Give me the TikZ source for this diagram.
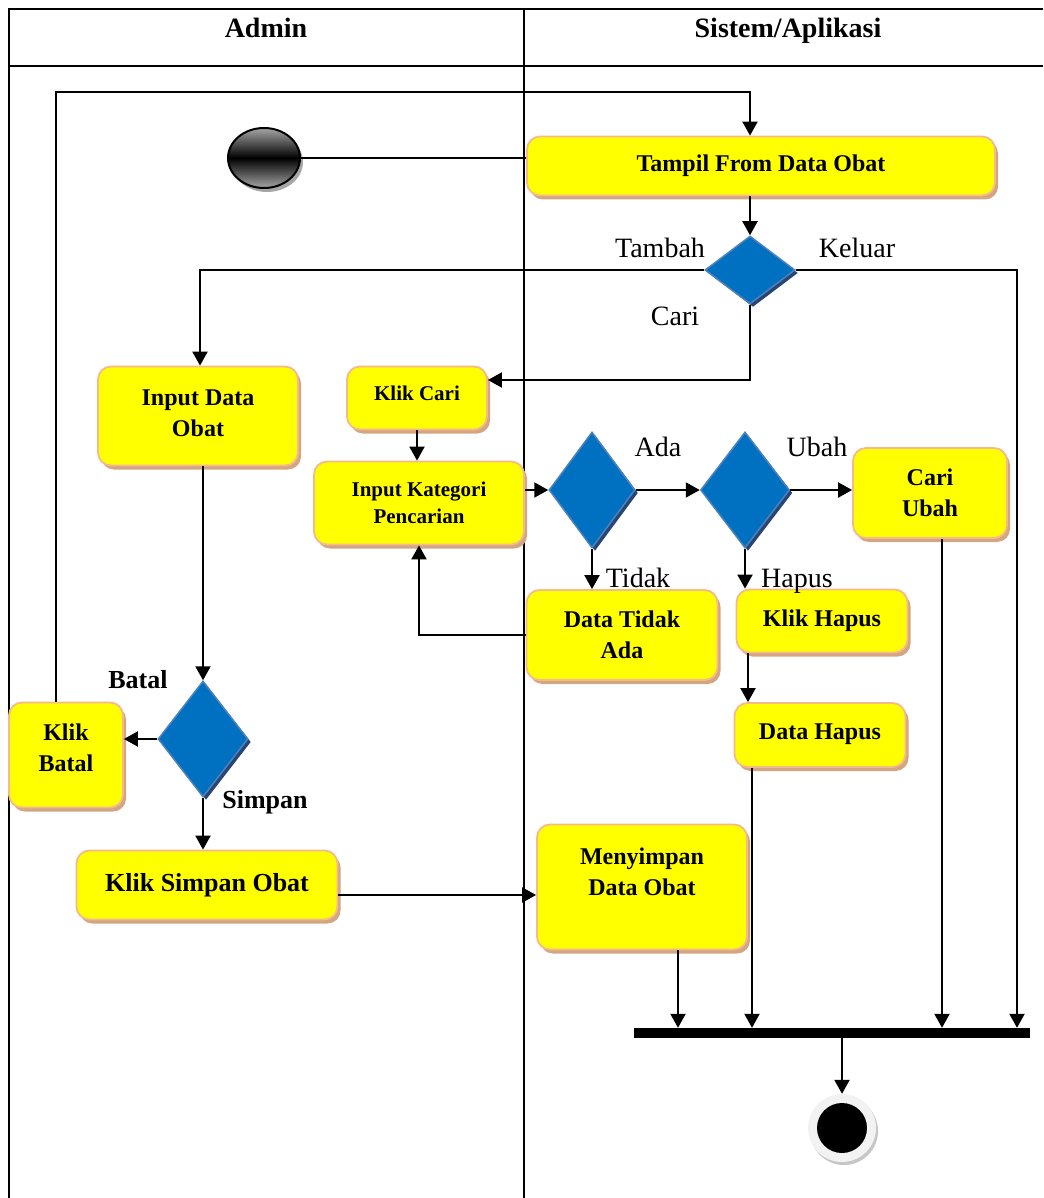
\documentclass[tikz,border=0pt]{standalone}
\usepackage{fontspec}
\setmainfont{Liberation Serif}
\usetikzlibrary{arrows.meta,shapes.geometric,shadows,calc}
\definecolor{boxfill}{RGB}{255,255,0}
\definecolor{boxline}{RGB}{244,185,140}
\definecolor{boxshadow}{RGB}{212,165,130}
\definecolor{diafill}{RGB}{0,112,192}
\definecolor{dialine}{RGB}{79,129,189}
\definecolor{diashadow}{RGB}{40,70,115}
\begin{document}
\begin{tikzpicture}[x=1pt,y=-1pt,
  box/.style={rectangle, rounded corners=13pt, draw=boxline, line width=1.8pt, fill=boxfill, align=center, inner sep=0pt,
    font=\bfseries\fontsize{24}{31}\selectfont,
    drop shadow={shadow xshift=3pt, shadow yshift=-4pt, fill=boxshadow, opacity=1}},
  smallbox/.style={box, font=\bfseries\fontsize{21}{27}\selectfont},
  dia/.style={diamond, draw=dialine, line width=1.5pt, fill=diafill, inner sep=0pt,
    drop shadow={shadow xshift=3pt, shadow yshift=-3pt, fill=diashadow, opacity=1}},
  lbl/.style={font=\fontsize{28}{30}\selectfont, inner sep=0pt, anchor=base},
  blbl/.style={font=\bfseries\fontsize{26}{28}\selectfont, inner sep=0pt, anchor=base},
  hdr/.style={font=\bfseries\fontsize{28}{30}\selectfont, inner sep=0pt, anchor=base},
  conn/.style={line width=2pt},
  arr/.style={conn, -{Triangle[length=14pt,width=15pt]}},
  tbl/.style={line width=1.6pt}
]
\useasboundingbox (0,0) rectangle (1043,1198);
% table
\draw[tbl] (1043,9) -- (9,9) -- (9,1198);
\draw[tbl] (9,66) -- (1043,66);
\draw[tbl] (524,9) -- (524,1198);
\node[hdr] (hadmin) at (266,38) {Admin};
\node[hdr] (hsys) at (788,38) {Sistem/Aplikasi};

% nodes
\node[ellipse, minimum width=72pt, minimum height=60pt, draw=black, line width=2pt,
  top color=gray!70, bottom color=gray!70, middle color=black,
  drop shadow={shadow xshift=3pt, shadow yshift=-4pt, fill=gray!70, opacity=1}] (start) at (264,158) {};
\node[box, minimum width=468pt, minimum height=59pt] (tampil) at (761,166) {Tampil From Data Obat};
\node[dia, minimum width=90pt, minimum height=68pt] (d1) at (750,270) {};
\node[box, minimum width=200pt, minimum height=99pt] (inputdata) at (198,416) {Input Data\\Obat\\[-25pt]\mbox{}};
\node[smallbox, minimum width=140pt, minimum height=63pt] (klikcari) at (417,398) {Klik Cari\\[-17pt]\mbox{}};
\node[smallbox, minimum width=210pt, minimum height=83pt] (inputkat) at (419,503) {Input Kategori\\Pencarian};
\node[dia, minimum width=86pt, minimum height=116pt] (d2) at (592,490) {};
\node[dia, minimum width=89pt, minimum height=116pt] (d3) at (745,490) {};
\node[box, minimum width=154pt, minimum height=90pt] (cariubah) at (930,493) {Cari\\Ubah};
\node[box, minimum width=191pt, minimum height=90pt] (datatidak) at (622,635) {Data Tidak\\Ada};
\node[box, minimum width=171pt, minimum height=63pt] (klikhapus) at (822,621) {Klik Hapus};
\node[box, minimum width=171pt, minimum height=64pt] (datahapus) at (820,735) {Data Hapus\\[-24pt]\mbox{}};
\node[dia, minimum width=90pt, minimum height=116pt] (d4) at (203,739) {};
\node[box, minimum width=114pt, minimum height=105pt] (klikbatal) at (66,755) {Klik\\Batal\\[-17pt]\mbox{}};
\node[box, minimum width=261pt, minimum height=69pt, font=\bfseries\fontsize{26}{31}\selectfont] (kliksimpan) at (207,885) {Klik Simpan Obat\\[-25pt]\mbox{}};
\node[box, minimum width=210pt, minimum height=125pt] (menyimpan) at (642,887) {Menyimpan\\Data Obat\\~};
\node[rectangle, fill=black, minimum width=396pt, minimum height=10pt, inner sep=0pt] (bar) at (832,1033) {};
\node[circle, minimum size=68pt, fill=gray!10, inner sep=0pt,
  drop shadow={shadow xshift=2pt, shadow yshift=-3pt, fill=gray!45, opacity=1}] (end) at (842,1128) {};
\node[circle, minimum size=50pt, fill=black, inner sep=0pt] (endin) at (end.center) {};

% labels
\node[lbl] (ltambah) at (660,258) {Tambah};
\node[lbl] (lkeluar) at (857,258) {Keluar};
\node[lbl] (lcari) at (675,325) {Cari};
\node[lbl] (lada) at (658,456) {Ada};
\node[lbl] (lubah) at (817,456) {Ubah};
\node[lbl] (ltidak) at (638,587) {Tidak};
\node[lbl] (lhapus) at (797,587) {Hapus};
\node[blbl] (lbatal) at (138,688) {Batal};
\node[blbl] (lsimpan) at (265,808) {Simpan};

% coordinates
\coordinate (loop) at (750,92);
\coordinate (kx) at (1017,270);
\coordinate (cc) at (750,380);
\coordinate (tx) at (200,270);
\coordinate (bx) at (56,92);

% connectors
\draw[conn] (start.east) -- (start.east -| tampil.west);
\draw[arr] (d1 |- tampil.south) -- (d1.north);
\draw[arr] (d1.west) -- (tx) -- (tx |- inputdata.north);
\draw[arr] (d1.east) -- (kx) -- (kx |- bar.north);
\draw[arr] (d1.south) -- (cc) -- (cc -| klikcari.east);
\draw[arr] (klikcari.south) -- (klikcari.south |- inputkat.north);
\draw[arr] (inputkat.east |- d2.west) -- (d2.west);
\draw[arr] (d2.east) -- (d3.west);
\draw[arr] (d3.east) -- (d3.east -| cariubah.west);
\draw[arr] (d2.south) -- (d2.south |- datatidak.north);
\draw[arr] (datatidak.west) -| (inputkat.south);
\draw[arr] (d3.south) -- (d3.south |- klikhapus.north);
\draw[arr] ([xshift=-74pt]klikhapus.south) -- ([xshift=-74pt]klikhapus.south |- datahapus.north);
\draw[arr] ([xshift=-68pt]datahapus.south) -- ([xshift=-68pt]datahapus.south |- bar.north);
\draw[arr] ([xshift=12pt]cariubah.south) -- ([xshift=12pt]cariubah.south |- bar.north);
\draw[arr] (menyimpan.south -| 678,0) -- (678,0 |- bar.north);
\draw[arr] (inputdata.south -| d4.north) -- (d4.north);
\draw[arr] (d4.west) -- (d4.west -| klikbatal.east);
\draw[arr] (bx |- klikbatal.north) -- (bx) -- (loop) -- (loop |- tampil.north);
\draw[arr] (d4.south) -- (d4.south |- kliksimpan.north);
\draw[arr] ([yshift=-10pt]kliksimpan.east) -- ([yshift=-10pt]kliksimpan.east -| menyimpan.west);
\draw[arr] (bar.south -| end.north) -- (end.north);
\end{tikzpicture}
\end{document}
